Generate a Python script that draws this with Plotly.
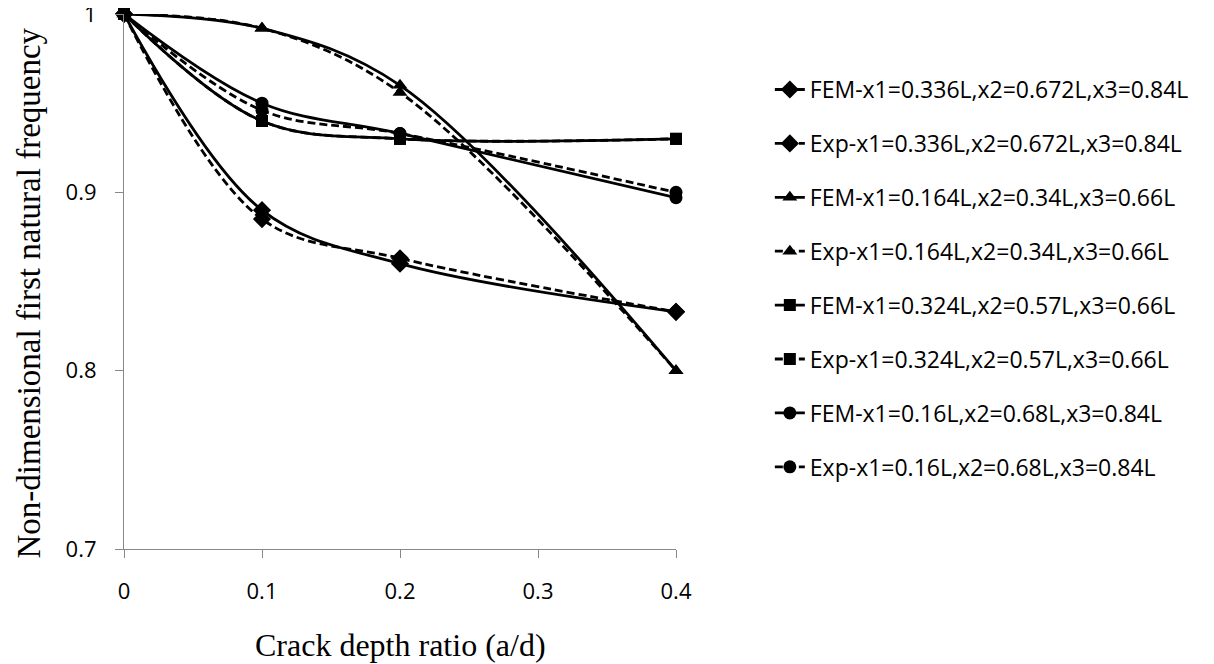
import plotly.graph_objects as go

crack_ratio = [0, 0.1, 0.2, 0.4]

fem_diamond = [1.0, 0.890, 0.860, 0.833]
exp_diamond = [1.0, 0.885, 0.863, 0.833]
fem_triangle = [1.0, 0.992, 0.960, 0.800]
exp_triangle = [1.0, 0.992, 0.956, 0.800]
fem_square = [1.0, 0.940, 0.930, 0.930]
exp_square = [1.0, 0.940, 0.930, 0.930]
fem_circle = [1.0, 0.950, 0.933, 0.897]
exp_circle = [1.0, 0.946, 0.933, 0.900]

names = [
    "FEM-x1=0.336L,x2=0.672L,x3=0.84L",
    "Exp-x1=0.336L,x2=0.672L,x3=0.84L",
    "FEM-x1=0.164L,x2=0.34L,x3=0.66L",
    "Exp-x1=0.164L,x2=0.34L,x3=0.66L",
    "FEM-x1=0.324L,x2=0.57L,x3=0.66L",
    "Exp-x1=0.324L,x2=0.57L,x3=0.66L",
    "FEM-x1=0.16L,x2=0.68L,x3=0.84L",
    "Exp-x1=0.16L,x2=0.68L,x3=0.84L",
]
series = [fem_diamond, exp_diamond, fem_triangle, exp_triangle,
          fem_square, exp_square, fem_circle, exp_circle]
symbols = ["diamond", "diamond", "triangle-up", "triangle-up",
           "square", "square", "circle", "circle"]
sizes = [14, 14, 13, 13, 12, 12, 13, 13]

fig = go.Figure()
for i, (nm, ys, sym, sz) in enumerate(zip(names, series, symbols, sizes)):
    dashed = nm.startswith("Exp")
    fig.add_trace(go.Scatter(
        x=crack_ratio, y=ys, name=nm, mode="lines+markers",
        line=dict(color="black", width=2.8, shape="spline", smoothing=1,
                  dash="8px,4px" if dashed else "solid"),
        marker=dict(symbol=sym, size=sz, color="black"),
        cliponaxis=False, legendgroup=str(i),
    ))

axis_col = "#888888"
tick_font = dict(family="Open Sans, sans-serif", size=22, color="black")
title_font = "Liberation Serif, Times New Roman, serif"
fig.update_layout(
    width=1214, height=664,
    margin=dict(l=116, r=546, t=6, b=123, autoexpand=False),
    plot_bgcolor="white", paper_bgcolor="white",
    showlegend=True,
    legend=dict(x=1.170, xanchor="left", y=0.899, yanchor="top",
                font=dict(family="Open Sans, sans-serif", size=23, color="black"),
                tracegroupgap=21, bgcolor="rgba(0,0,0,0)"),
    xaxis=dict(range=[0, 0.4], dtick=0.1, tick0=0, showgrid=False, zeroline=False,
               showline=True, linecolor=axis_col, linewidth=1.2,
               ticks="outside", ticklen=8, tickcolor=axis_col, automargin=False,
               ticklabelstandoff=14, tickfont=tick_font),
    yaxis=dict(range=[0.7, 1.0], dtick=0.1, tick0=0.7, showgrid=False, zeroline=False,
               showline=True, linecolor=axis_col, linewidth=1.2,
               ticks="outside", ticklen=8, tickcolor=axis_col, automargin=False,
               ticklabelstandoff=14, ticklabeloverflow="allow", tickfont=tick_font),
    annotations=[
        dict(text="Crack depth ratio (a/d)", xref="paper", yref="paper",
             x=0.5, y=0, yshift=-96, xanchor="center", yanchor="middle",
             showarrow=False, font=dict(family=title_font, size=32, color="black")),
        dict(text="Non-dimensional first natural frequency", xref="paper", yref="paper",
             x=0, y=0.5, xshift=-96, yshift=-12, textangle=-90, xanchor="center", yanchor="middle",
             showarrow=False, font=dict(family=title_font, size=33, color="black")),
    ],
)

fig.write_html("out.html")
